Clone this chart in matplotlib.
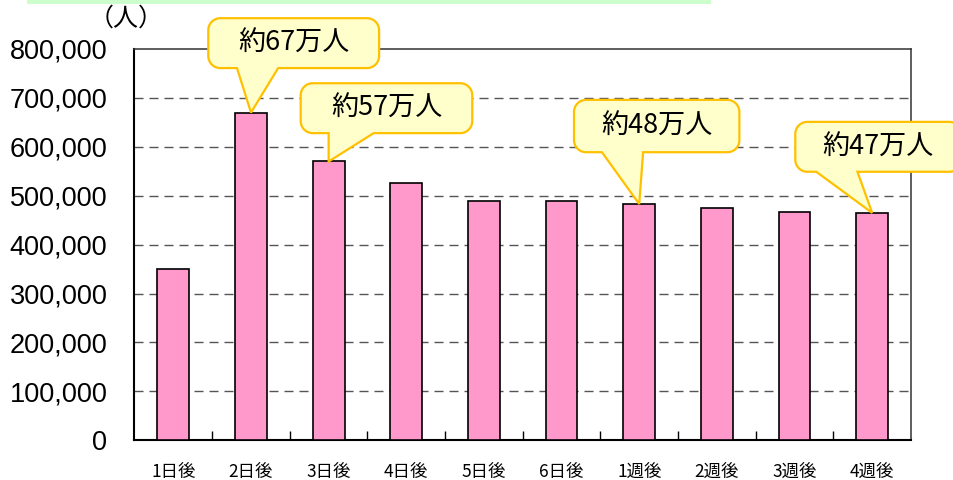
import matplotlib
matplotlib.use("Agg")
import matplotlib.pyplot as plt
from matplotlib.path import Path
from matplotlib.patches import PathPatch, Rectangle
from matplotlib.ticker import FuncFormatter, FixedLocator
from matplotlib.transforms import IdentityTransform

# Data
categories = ["1日後", "2日後", "3日後", "4日後", "5日後", "6日後",
              "1週後", "2週後", "3週後", "4週後"]
visitors = [350000, 670000, 570000, 526000, 490000, 490000,
            483000, 474000, 467000, 465000]
callout_texts = ["約67万人", "約57万人", "約48万人", "約47万人"]
callout_bars = [1, 2, 6, 9]
# callout boxes: (x0, x1, y_bottom, y_top, tail_x0, tail_x1) in data units
callout_boxes = [
    (0.45, 2.65, 761000, 863000, 0.82, 1.35),
    (1.64, 3.85, 628000, 730000, 2.00, 2.58),
    (5.16, 7.29, 589000, 696000, 5.52, 6.05),
    (8.01, 10.15, 549000, 651000, 8.28, 8.81),
]

JP = ["Noto Sans CJK JP", "DejaVu Sans"]

fig = plt.figure(figsize=(9.54, 4.8), dpi=100)
fig.patch.set_facecolor("white")
fig.patches.append(Rectangle((27 / 954, 1 - 3.5 / 480), 684 / 954, 3.5 / 480,
                             transform=fig.transFigure, facecolor="#CCFFCC",
                             edgecolor="none", zorder=0))

ax = fig.add_axes([134.5 / 954, 39.7 / 480, 776.5 / 954, 391.3 / 480])
x = list(range(len(categories)))
ax.bar(x, visitors, width=0.41, color="#FF99CC", edgecolor="black",
       linewidth=1.2, zorder=3)

ax.set_xlim(-0.5, len(categories) - 0.5)
ax.set_ylim(0, 800000)

# horizontal dashed grid
for v in range(100000, 800000, 100000):
    ax.axhline(v, color="#555555", linewidth=1.0, dashes=(6.5, 4.3), zorder=1)

ax.set_yticks(range(0, 800001, 100000))
ax.yaxis.set_major_formatter(FuncFormatter(lambda v, p: f"{int(v):,}"))
ax.tick_params(axis="y", length=0, pad=19.5, labelsize=19.5)
for lab in ax.get_yticklabels():
    lab.set_fontfamily("Liberation Sans")

# category boundaries as inward ticks, labels at centres
ax.xaxis.set_major_locator(FixedLocator([i + 0.5 for i in x[:-1]]))
ax.xaxis.set_minor_locator(FixedLocator(x))
ax.set_xticklabels([], minor=False)
ax.set_xticklabels(categories, minor=True, fontfamily=JP, fontsize=12.5)
ax.tick_params(axis="x", which="major", direction="in", length=6.5,
               width=1.0, color="black")
ax.tick_params(axis="x", which="minor", length=0, pad=16)

for side in ("left", "bottom"):
    ax.spines[side].set_color("black")
    ax.spines[side].set_linewidth(1.5)
for side in ("top", "right"):
    ax.spines[side].set_color("#333333")
    ax.spines[side].set_linewidth(1.1)

fig.text(126 / 954, 1 - 19 / 480, "（人）", fontfamily=JP, fontsize=18,
         ha="center", va="center")


def callout_path(x0, x1, y0, y1, tx0, tx1, tip, r=12):
    """Rounded box (display pixels, y up) with a pointer from its bottom edge."""
    k = 0.55
    verts, codes = [], []

    def add(pt, code):
        verts.append(pt)
        codes.append(code)

    add((x0 + r, y0), Path.MOVETO)
    add((tx0, y0), Path.LINETO)
    add(tip, Path.LINETO)
    add((tx1, y0), Path.LINETO)
    add((x1 - r, y0), Path.LINETO)
    add((x1 - r + k * r, y0), Path.CURVE4)
    add((x1, y0 + r - k * r), Path.CURVE4)
    add((x1, y0 + r), Path.CURVE4)
    add((x1, y1 - r), Path.LINETO)
    add((x1, y1 - r + k * r), Path.CURVE4)
    add((x1 - r + k * r, y1), Path.CURVE4)
    add((x1 - r, y1), Path.CURVE4)
    add((x0 + r, y1), Path.LINETO)
    add((x0 + r - k * r, y1), Path.CURVE4)
    add((x0, y1 - r + k * r), Path.CURVE4)
    add((x0, y1 - r), Path.CURVE4)
    add((x0, y0 + r), Path.LINETO)
    add((x0, y0 + r - k * r), Path.CURVE4)
    add((x0 + r - k * r, y0), Path.CURVE4)
    add((x0 + r, y0), Path.CURVE4)
    add((x0 + r, y0), Path.CLOSEPOLY)
    return Path(verts, codes)


to_px = ax.transData.transform
for text, bi, box in zip(callout_texts, callout_bars, callout_boxes):
    bx0, bx1, by0, by1, tx0, tx1 = box
    (px0, py0) = to_px((bx0, by0))
    (px1, py1) = to_px((bx1, by1))
    tpx0 = to_px((tx0, by0))[0]
    tpx1 = to_px((tx1, by0))[0]
    tip = tuple(to_px((bi, visitors[bi])))
    patch = PathPatch(callout_path(px0, px1, py0, py1, tpx0, tpx1, tip),
                      facecolor="#FFFFCC", edgecolor="#FFC000", linewidth=1.6,
                      transform=IdentityTransform(), zorder=5)
    fig.patches.append(patch)
    fig.text((px0 + px1) / 2 / 954, (py0 + py1) / 2 / 480, text,
             fontfamily=JP, fontsize=19.5, ha="center", va="center", zorder=6)

fig.savefig("out.png", dpi=100)
